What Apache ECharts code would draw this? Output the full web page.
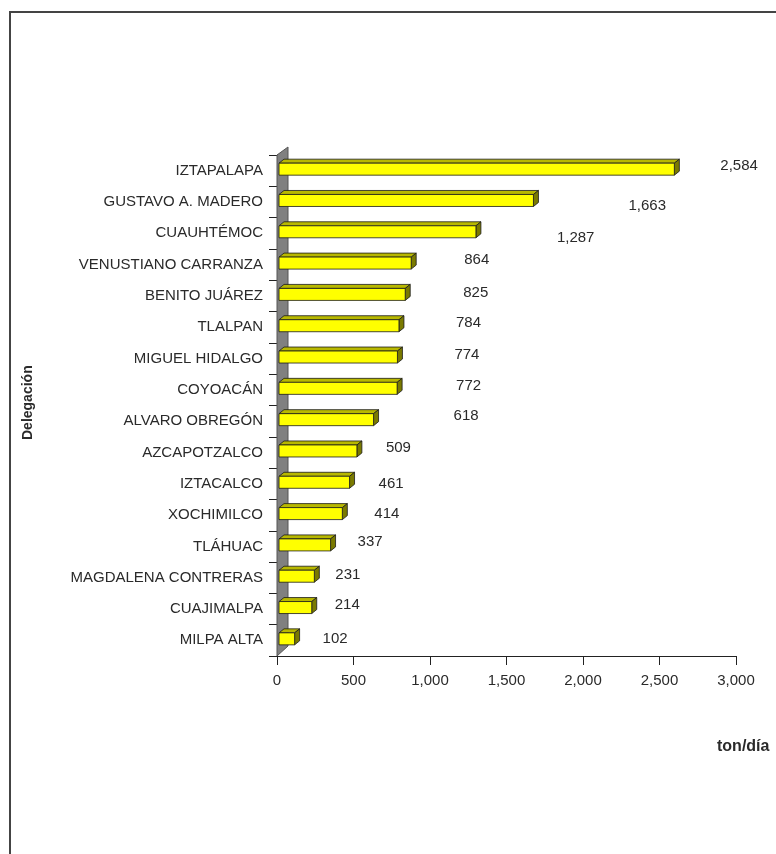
<!DOCTYPE html>
<html>
<head>
<meta charset="utf-8">
<script src="https://cdn.jsdelivr.net/npm/echarts@6/dist/echarts.min.js"></script>
<style>
  html, body { margin: 0; padding: 0; background: #fff; }
  #chart { width: 776px; height: 854px; }
</style>
</head>
<body>
<div id="chart"></div>
<script>
const categories = [
  'IZTAPALAPA', 'GUSTAVO A. MADERO', 'CUAUHTÉMOC', 'VENUSTIANO CARRANZA',
  'BENITO JUÁREZ', 'TLALPAN', 'MIGUEL HIDALGO', 'COYOACÁN', 'ALVARO OBREGÓN',
  'AZCAPOTZALCO', 'IZTACALCO', 'XOCHIMILCO', 'TLÁHUAC', 'MAGDALENA CONTRERAS',
  'CUAJIMALPA', 'MILPA ALTA'
]
const values = [2584, 1663, 1287, 864, 825, 784, 774, 772, 618, 509, 461, 414, 337, 231, 214, 102]
const valueTicks = [0, 500, 1000, 1500, 2000, 2500, 3000]

// label offsets (px) from bar end, the source file places them loosely
const labelShift = [
  [48, -5], [97, 4], [83, 5], [55, -5], [60, -3], [59, -4], [59, -4], [61, -4],
  [82, -5], [31, -5], [31, 0], [34, -1], [29, -5], [23, -3], [25, -4], [30, -1]
]

const FONT = '"Liberation Sans", Arial, sans-serif'
const TXT = '#2a2a2a'
const fmt = v => v.toLocaleString('en-US')

const chart = echarts.init(document.getElementById('chart'))

const option = {
  animation: false,
  grid: { left: 277, right: 40, top: 155, bottom: 198 },
  xAxis: {
    type: 'value',
    min: valueTicks[0],
    max: valueTicks[valueTicks.length - 1],
    interval: valueTicks[1] - valueTicks[0],
    axisLine: { show: true, lineStyle: { color: '#222', width: 1 } },
    axisTick: { show: true, length: 9, lineStyle: { color: '#222' } },
    splitLine: { show: false },
    axisLabel: { color: TXT, fontSize: 15, fontFamily: FONT, margin: 17, formatter: fmt }
  },
  yAxis: {
    type: 'category',
    inverse: true,
    data: categories,
    axisLine: { show: true, lineStyle: { color: '#222', width: 1 } },
    axisTick: { show: true, length: 8, lineStyle: { color: '#222' } },
    axisLabel: { color: TXT, fontSize: 15, fontFamily: FONT, margin: 14 }
  },
  graphic: [
    {
      type: 'rect',
      shape: { x: 10, y: 12, width: 900, height: 900 },
      style: { fill: 'none', stroke: '#444', lineWidth: 2 },
      silent: true
    },
    {
      type: 'text',
      rotation: Math.PI / 2,
      x: 21, y: 440,
      style: { text: 'Delegación', font: 'bold 14px ' + FONT, fill: TXT }
    },
    {
      type: 'text',
      x: 717, y: 739,
      style: { text: 'ton/día', font: 'bold 16px ' + FONT, fill: TXT }
    }
  ],
  series: [
    {
      // grey back wall
      type: 'custom',
      clip: false,
      silent: true,
      z: 1,
      data: [[0, 0]],
      renderItem: (params, api) => {
        const band = api.size([0, 1])[1]
        const topPt = api.coord([0, 0])
        const botPt = api.coord([0, categories.length - 1])
        const x0 = topPt[0]
        const top = topPt[1] - band / 2
        const bot = botPt[1] + band / 2
        return {
          type: 'polygon',
          shape: { points: [[x0, bot], [x0, top], [x0 + 11, top - 8], [x0 + 11, bot - 10]] },
          style: { fill: '#808080', stroke: '#555', lineWidth: 1 }
        }
      }
    },
    {
      type: 'custom',
      clip: false,
      z: 2,
      encode: { x: 0, y: 1 },
      data: values.map((v, i) => [v, i]),
      renderItem: (params, api) => {
        const v = api.value(0)
        const i = api.value(1)
        const start = api.coord([0, i])
        const end = api.coord([v, i])
        const c = start[1]
        const x1 = start[0] + 2
        const x2 = end[0] + 2
        const yt = c - 7.5
        const yb = c + 4.5
        const dx = 5
        const dy = 4
        const sh = labelShift[params.dataIndex] || [10, 0]
        const stroke = { stroke: '#1a1a1a', lineWidth: 0.8 }
        return {
          type: 'group',
          children: [
            {
              type: 'polygon',
              shape: { points: [[x1, yt], [x1 + dx, yt - dy], [x2 + dx, yt - dy], [x2, yt]] },
              style: Object.assign({ fill: '#b8b800' }, stroke)
            },
            {
              type: 'polygon',
              shape: { points: [[x2, yt], [x2 + dx, yt - dy], [x2 + dx, yb - dy], [x2, yb]] },
              style: Object.assign({ fill: '#7a7a00' }, stroke)
            },
            {
              type: 'rect',
              shape: { x: x1, y: yt, width: x2 - x1, height: yb - yt },
              style: Object.assign({ fill: '#ffff00' }, stroke)
            },
            {
              type: 'text',
              x: end[0] + sh[0],
              y: c + sh[1],
              style: {
                text: fmt(v),
                font: '15px ' + FONT,
                fill: TXT,
                align: 'left',
                verticalAlign: 'middle'
              }
            }
          ]
        }
      }
    }
  ]
}

chart.setOption(option)
</script>
</body>
</html>
